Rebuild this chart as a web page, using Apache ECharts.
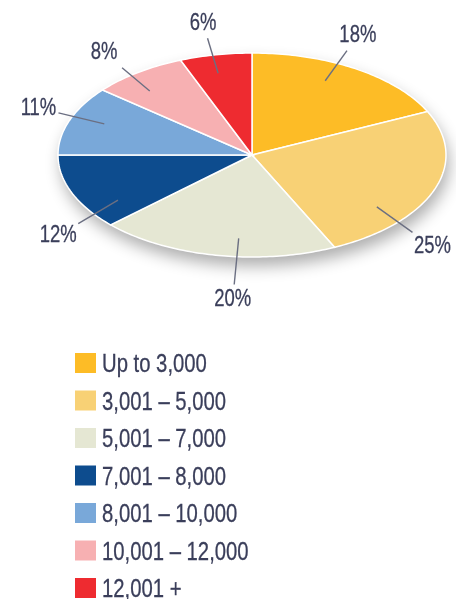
<!DOCTYPE html>
<html>
<head>
<meta charset="utf-8">
<script src="https://cdn.jsdelivr.net/npm/echarts@6/dist/echarts.min.js"></script>
<style>
  html, body { margin: 0; padding: 0; background: #fff; }
  #chart { width: 456px; height: 599px; }
</style>
</head>
<body>
<div id="chart"></div>
<script>
const categories = ['Up to 3,000', '3,001 – 5,000', '5,001 – 7,000', '7,001 – 8,000', '8,001 – 10,000', '10,001 – 12,000', '12,001 +']
const shares = [18, 25, 20, 12, 11, 8, 6]
const colors = ['#FDBC26', '#F8D175', '#E5E7D3', '#0D4C8E', '#79A8D9', '#F7B0B2', '#EE2B30']

// small turn (degrees) of each label away from the slice middle
const labelTurn = [-5, 18.5, -6, -11, 2, -4, -1.5]

const total = shares.reduce((a, b) => a + b, 0)
const starts = []
shares.reduce((acc, v) => { starts.push(acc); return acc + v }, 0)

// no narrow font installed, so squeeze Liberation Sans (Arial metrics) like a condensed face
const LABEL_FONT = '24px "Liberation Sans", Arial, sans-serif'
const LEGEND_FONT = '26px "Liberation Sans", Arial, sans-serif'
const NARROW = 0.77
const TEXT_COLOR = '#3A3E5A'

// pie geometry (flattened disc)
const geo = { cx: 252, cy: 155, rx: 194, ry: 102 }

const pt = (a, r) => [geo.cx + geo.rx * r * Math.sin(a), geo.cy - geo.ry * r * Math.cos(a)]

const ellipsePoints = (a0, a1) => {
  const pts = []
  const steps = Math.max(2, Math.ceil((a1 - a0) / (Math.PI / 180)))
  for (let k = 0; k <= steps; k++) {
    pts.push(pt(a0 + (a1 - a0) * k / steps, 1))
  }
  return pts
}

const renderSlice = (i) => (params, api) => {
  const start = api.value(0)
  const share = api.value(1)
  const a0 = start / total * Math.PI * 2
  const a1 = (start + share) / total * Math.PI * 2
  const la = (a0 + a1) / 2 + labelTurn[i] * Math.PI / 180
  // label sits on a wider ring, line runs from inside the slice to the text box
  const tx = geo.cx + (geo.rx + 36) * Math.sin(la)
  const ty = geo.cy - (geo.ry + 38) * Math.cos(la) + 5
  const p1 = pt(la, 0.82)
  const dx = tx - p1[0]
  const dy = ty - p1[1]
  const t = Math.min(20 / Math.abs(dx || 1e-6), 15 / Math.abs(dy || 1e-6))
  const p2 = [tx - dx * t, ty - dy * t]
  return {
    type: 'group',
    children: [
      {
        type: 'polygon',
        shape: { points: [[geo.cx, geo.cy]].concat(ellipsePoints(a0, a1)) },
        style: { fill: api.visual('color'), stroke: '#fff', lineWidth: 1.5 }
      },
      {
        type: 'line',
        shape: { x1: p1[0], y1: p1[1], x2: p2[0], y2: p2[1] },
        style: { stroke: '#6B6F82', lineWidth: 1.4 }
      },
      {
        type: 'text',
        x: tx,
        y: ty,
        scaleX: NARROW,
        style: {
          text: share + '%', x: 0, y: 0,
          align: 'center', verticalAlign: 'middle',
          font: LABEL_FONT, fill: TEXT_COLOR,
          stroke: TEXT_COLOR, lineWidth: 0.3
        }
      }
    ]
  }
}

const chart = echarts.init(document.getElementById('chart'))

const series = [{
  type: 'custom',
  name: 'shadow',
  coordinateSystem: 'none',
  silent: true,
  data: [[0]],
  renderItem: () => ({
    type: 'polygon',
    shape: { points: ellipsePoints(0, Math.PI * 2) },
    style: {
      fill: '#fff',
      shadowBlur: 16,
      shadowOffsetY: 9,
      shadowOffsetX: 3,
      shadowColor: 'rgba(0,0,0,0.32)'
    }
  })
}]

categories.forEach((name, i) => {
  series.push({
    type: 'custom',
    name: name,
    coordinateSystem: 'none',
    itemStyle: { color: colors[i] },
    data: [[starts[i], shares[i]]],
    renderItem: renderSlice(i)
  })
})

// legend: colour key + squeezed text
const legendItems = []
categories.forEach((name, i) => {
  const top = 353 + 37.5 * i
  legendItems.push({
    type: 'rect',
    shape: { x: 75, y: top, width: 21, height: 20 },
    style: { fill: colors[i] }
  })
  legendItems.push({
    type: 'text',
    x: 102,
    y: top + 12,
    scaleX: 0.78,
    style: {
      text: name, x: 0, y: 0, verticalAlign: 'middle',
      font: LEGEND_FONT, fill: TEXT_COLOR,
      stroke: TEXT_COLOR, lineWidth: 0.3
    }
  })
})

chart.setOption({
  animation: false,
  graphic: legendItems,
  series: series
})
</script>
</body>
</html>
